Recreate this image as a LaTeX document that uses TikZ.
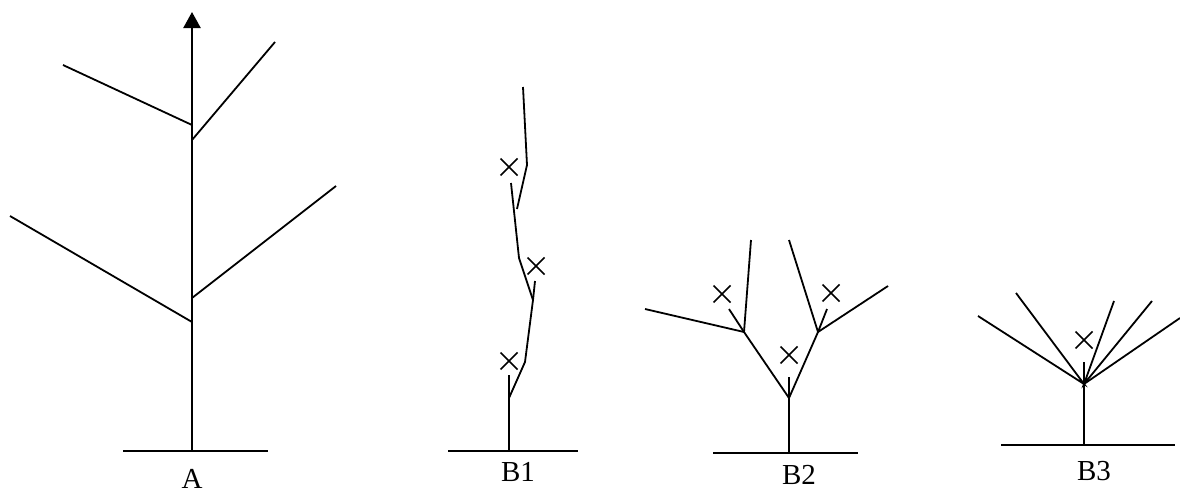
\documentclass[tikz,border=0pt]{standalone}
\usepackage{fontspec}
\setmainfont{Liberation Serif}
\usetikzlibrary{arrows.meta}
\begin{document}
\begin{tikzpicture}[x=1pt,y=-1pt,
  br/.style={line width=1.8pt, line cap=butt},
  trunk/.style={line width=2.4pt},
  cut/.style={line width=1.5pt},
  lbl/.style={font=\fontsize{29}{29}\selectfont, anchor=base, inner sep=0pt}]
\useasboundingbox (0,0) rectangle (1180,490);
\newcommand{\cutmark}[2]{\draw[cut] (#1-8.5,#2-8.5) -- (#1+8.5,#2+8.5) (#1-8.5,#2+8.5) -- (#1+8.5,#2-8.5);}
% ---------- A ----------
\draw[br] (123,451) -- (268,451);
\draw[trunk, -{Triangle[width=17pt,length=16pt]}] (192,451) -- (192,12);
\draw[br] (63,65) -- (192,125);
\draw[br] (192,140) -- (275,42);
\draw[br] (10,216) -- (192,322);
\draw[br] (192,298) -- (336,186);
\node[lbl] (labA) at (192,488) {A};
% ---------- B1 ----------
\draw[br] (448,451) -- (578,451);
\draw[br] (509,451) -- (509,375);
\draw[br] (509,398) -- (525,362) -- (533,300) -- (519,258) -- (511,183);
\draw[br] (533,300) -- (535,281);
\draw[br] (517,209) -- (527,165) -- (523,87);
\cutmark{509}{361}
\cutmark{536}{266}
\cutmark{509}{167}
\node[lbl] (labB1) at (518,481) {B1};
% ---------- B2 ----------
\draw[br] (713,453) -- (858,453);
\draw[br] (789,453) -- (789,377);
\draw[br] (789,398) -- (744,332) -- (729,309);
\draw[br] (645,309) -- (744,332) -- (751,240);
\draw[br] (789,398) -- (818,332) -- (827,309);
\draw[br] (789,240) -- (818,332) -- (888,286);
\cutmark{789}{355}
\cutmark{722}{294}
\cutmark{831}{293}
\node[lbl] (labB2) at (799,484) {B2};
% ---------- B3 ----------
\draw[br] (1001,445) -- (1175,445);
\draw[br] (1084,445) -- (1084,362);
\draw[br] (978,316) -- (1084,384) -- (1016,293);
\draw[br] (1114,301) -- (1084,384) -- (1152,301);
\draw[br] (1084,384) -- (1180,318);
\cutmark{1084}{340}
\node[lbl] (labB3) at (1094,480) {B3};
\end{tikzpicture}
\end{document}
